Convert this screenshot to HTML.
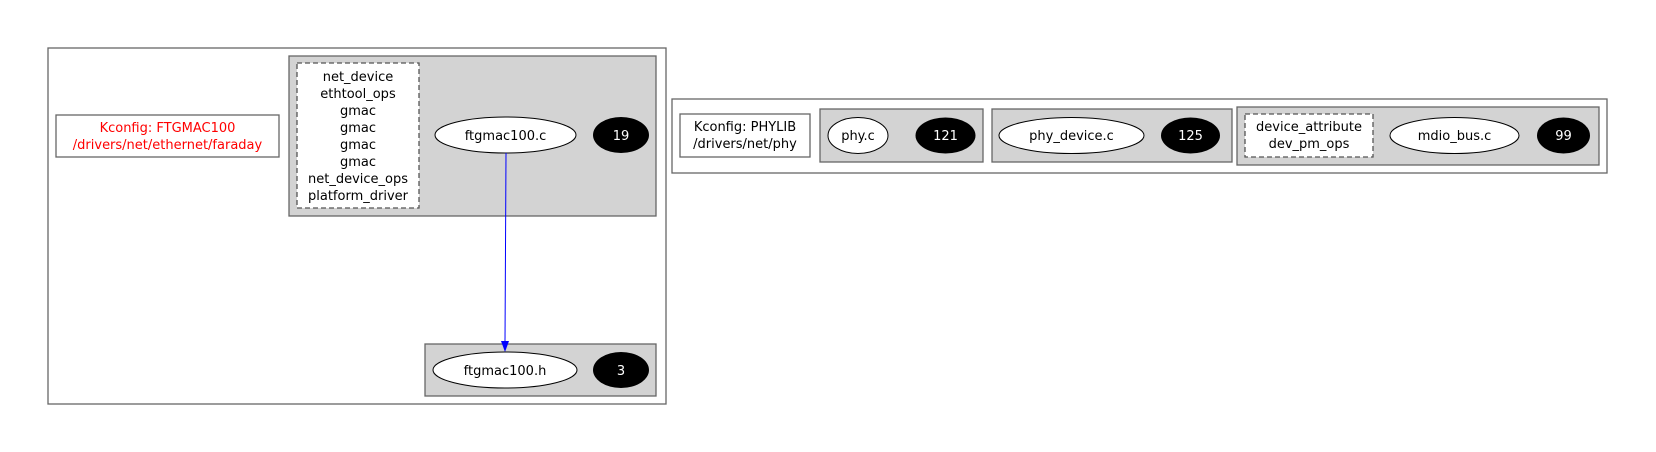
<!DOCTYPE html>
<html><head><meta charset="utf-8"><style>
html,body{margin:0;padding:0;background:#fff;}
svg{display:block;}
text{font-family:"DejaVu Sans","Liberation Sans",sans-serif;font-size:13px;text-anchor:middle;}
</style></head><body>
<svg width="1656" height="452" viewBox="0 0 1656 452" xmlns="http://www.w3.org/2000/svg">
<rect x="0" y="0" width="1656" height="452" fill="#fff"/>
<!-- left cluster -->
<rect x="48" y="48" width="618" height="356" fill="#fff" stroke="#666" stroke-width="1.3"/>
<rect x="56" y="115" width="223" height="42" fill="#fff" stroke="#666" stroke-width="1.3"/>
<text x="167.5" y="132" fill="#ff0000">Kconfig: FTGMAC100</text>
<text x="167.5" y="149" fill="#ff0000">/drivers/net/ethernet/faraday</text>
<rect x="289" y="56" width="367" height="160" fill="#d3d3d3" stroke="#666" stroke-width="1.3"/>
<rect x="297" y="63" width="122" height="145" fill="#fff" stroke="#555" stroke-width="1.3" stroke-dasharray="5,3"/>
<g fill="#000">
<text x="358" y="81">net_device</text>
<text x="358" y="98">ethtool_ops</text>
<text x="358" y="115">gmac</text>
<text x="358" y="132">gmac</text>
<text x="358" y="149">gmac</text>
<text x="358" y="166">gmac</text>
<text x="358" y="183">net_device_ops</text>
<text x="358" y="200">platform_driver</text>
</g>
<ellipse cx="505.5" cy="135" rx="70.5" ry="18" fill="#fff" stroke="#000"/>
<text x="505.5" y="140">ftgmac100.c</text>
<ellipse cx="621" cy="135" rx="28" ry="18" fill="#000"/>
<text x="621" y="140" fill="#fff">19</text>
<rect x="425" y="344" width="231" height="52" fill="#d3d3d3" stroke="#666" stroke-width="1.3"/>
<ellipse cx="505" cy="370" rx="72" ry="18" fill="#fff" stroke="#000"/>
<text x="505" y="375">ftgmac100.h</text>
<ellipse cx="621" cy="370" rx="28" ry="18" fill="#000"/>
<text x="621" y="375" fill="#fff">3</text>
<line x1="506" y1="153" x2="505" y2="342" stroke="#0000ff" stroke-width="1"/>
<polygon points="501,341 509,341 505,352" fill="#0000ff"/>
<!-- right cluster -->
<rect x="672" y="99" width="935" height="74" fill="#fff" stroke="#666" stroke-width="1.3"/>
<rect x="680" y="114" width="130" height="43" fill="#fff" stroke="#666" stroke-width="1.3"/>
<text x="745" y="131">Kconfig: PHYLIB</text>
<text x="745" y="148">/drivers/net/phy</text>
<rect x="820" y="109" width="163" height="53" fill="#d3d3d3" stroke="#666" stroke-width="1.3"/>
<ellipse cx="858" cy="135.5" rx="30" ry="18" fill="#fff" stroke="#000"/>
<text x="858" y="140">phy.c</text>
<ellipse cx="945.5" cy="135.5" rx="30" ry="18" fill="#000"/>
<text x="945.5" y="140" fill="#fff">121</text>
<rect x="992" y="109" width="240" height="53" fill="#d3d3d3" stroke="#666" stroke-width="1.3"/>
<ellipse cx="1071.5" cy="135.5" rx="72.5" ry="18" fill="#fff" stroke="#000"/>
<text x="1071.5" y="140">phy_device.c</text>
<ellipse cx="1190.5" cy="135.5" rx="29.5" ry="18" fill="#000"/>
<text x="1190.5" y="140" fill="#fff">125</text>
<rect x="1237" y="107" width="362" height="58" fill="#d3d3d3" stroke="#666" stroke-width="1.3"/>
<rect x="1245" y="114" width="128" height="43" fill="#fff" stroke="#555" stroke-width="1.3" stroke-dasharray="5,3"/>
<text x="1309" y="131">device_attribute</text>
<text x="1309" y="148">dev_pm_ops</text>
<ellipse cx="1454.5" cy="135.5" rx="64.5" ry="18" fill="#fff" stroke="#000"/>
<text x="1454.5" y="140">mdio_bus.c</text>
<ellipse cx="1563.5" cy="135.5" rx="26.5" ry="18" fill="#000"/>
<text x="1563.5" y="140" fill="#fff">99</text>
</svg>
</body></html>
